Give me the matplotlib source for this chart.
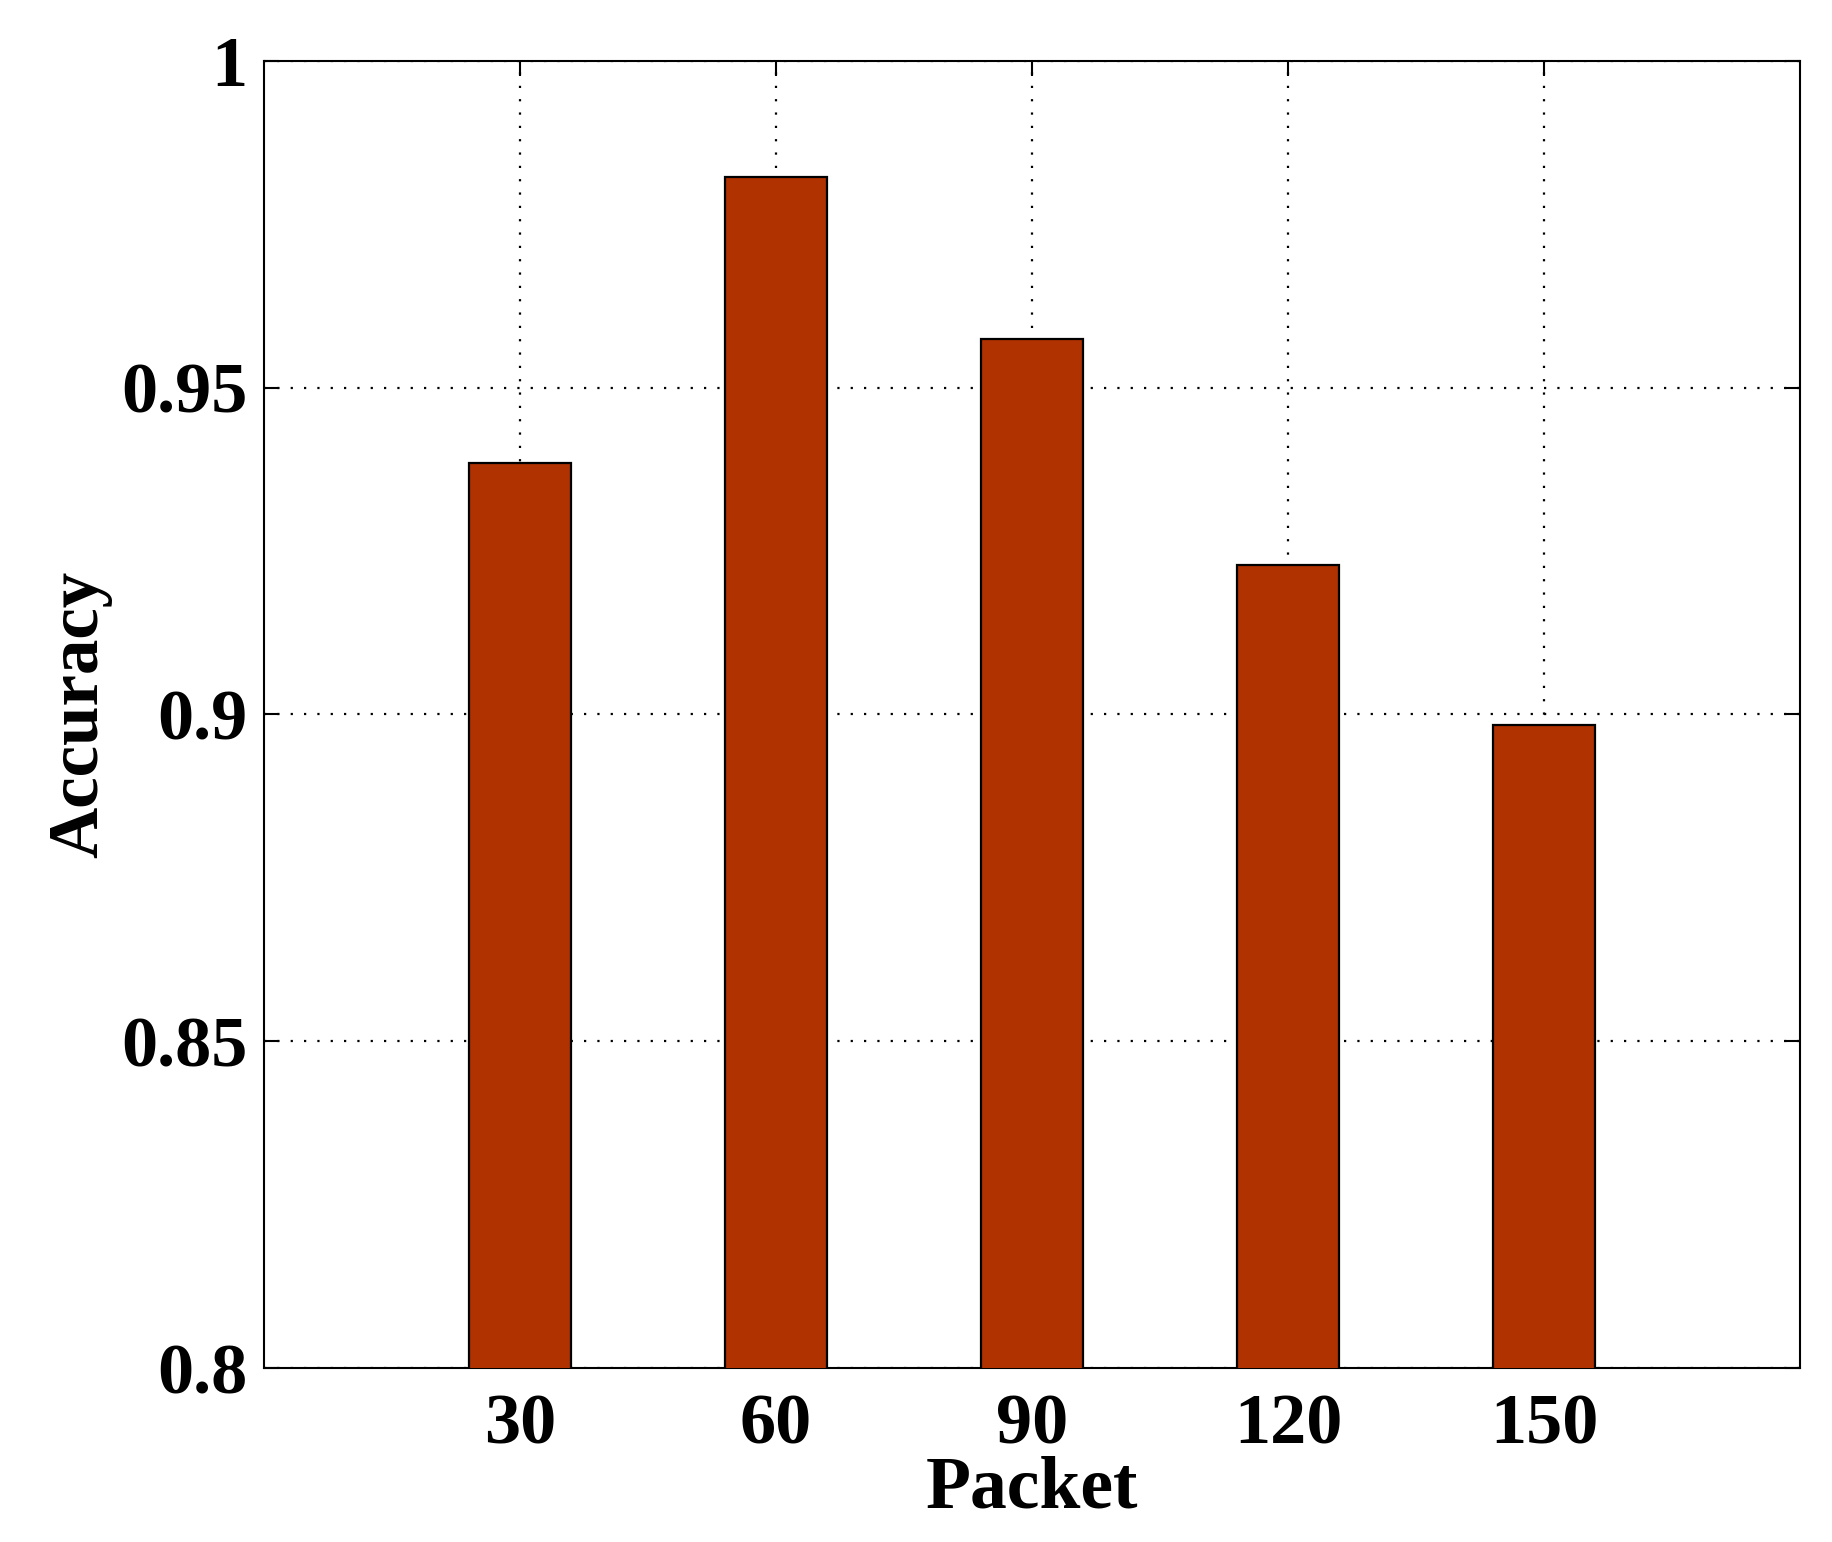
import matplotlib.pyplot as plt

# Define the data
packets = [30, 60, 90, 120, 150]
accuracy = [0.9384, 0.9822, 0.9574, 0.9228, 0.8984]
tick_labels = ["30", "60", "90", "120", "150"]
y_ticks = [0.8, 0.85, 0.9, 0.95, 1.0]
y_tick_labels = ["0.8", "0.85", "0.9", "0.95", "1"]

plt.rcParams["font.family"] = ["Liberation Serif", "DejaVu Serif"]
plt.rcParams["font.weight"] = "bold"

fig = plt.figure(figsize=(18.33, 15.42), dpi=100)
ax = fig.add_axes([0.144, 0.1128, 0.838, 0.8478])

ax.bar(packets, accuracy, width=12, color="#B03200", edgecolor="black",
       linewidth=1.6, zorder=3)

ax.set_xlim(0, 180)
ax.set_ylim(0.8, 1.0)
ax.set_xticks(packets)
ax.set_xticklabels(tick_labels)
ax.set_yticks(y_ticks)
ax.set_yticklabels(y_tick_labels)

ax.tick_params(axis="both", direction="in", length=11, width=1.5,
               labelsize=52, top=True, right=True)
ax.tick_params(axis="x", pad=18)
ax.tick_params(axis="y", pad=12)
for lab in ax.get_xticklabels() + ax.get_yticklabels():
    lab.set_fontweight("bold")

ax.grid(True, color="black", linestyle=(0, (1, 5)), linewidth=1.6, zorder=1)
ax.set_axisbelow(True)

for spine in ax.spines.values():
    spine.set_linewidth(1.5)

ax.set_xlabel("Packet", fontsize=53, fontweight="bold", labelpad=-2)
ax.set_ylabel("Accuracy", fontsize=51, fontweight="bold", labelpad=6)

plt.savefig("out.png", dpi=100, facecolor="white")
